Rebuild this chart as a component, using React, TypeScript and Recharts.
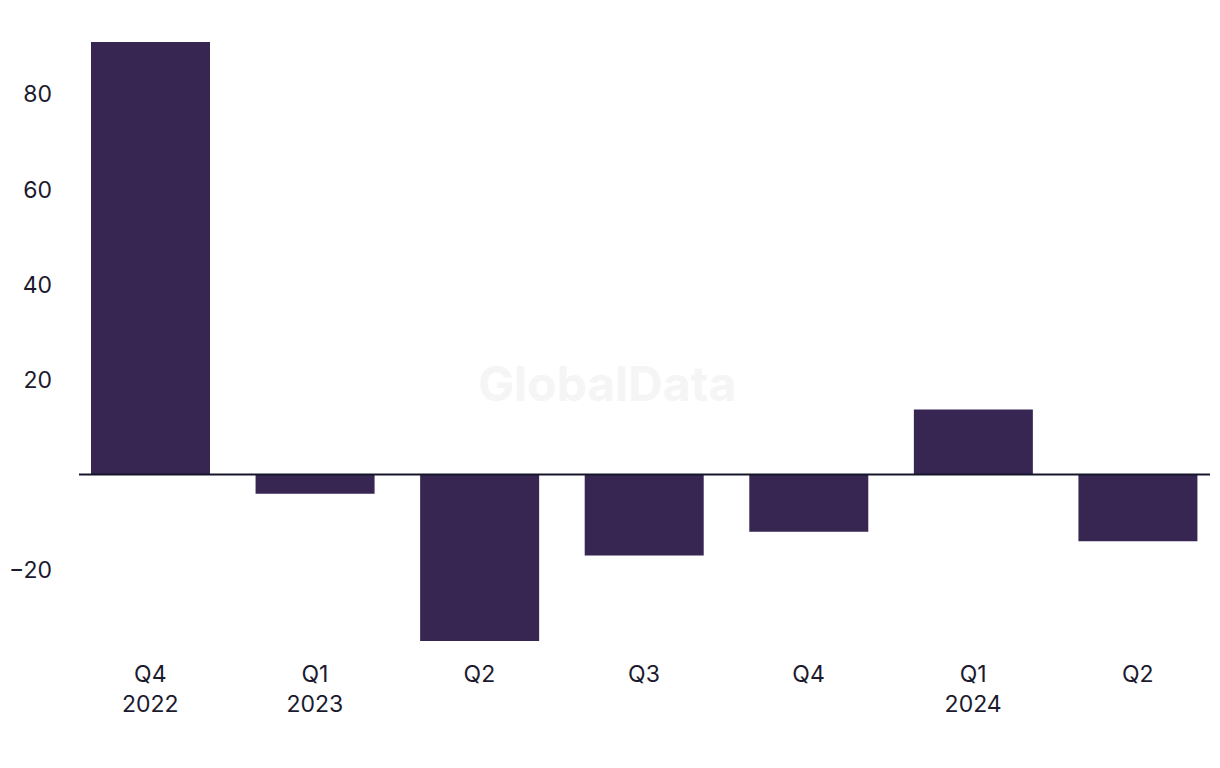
import { BarChart, Bar, XAxis, YAxis, ReferenceLine } from 'recharts';

const quarters = ['Q4', 'Q1', 'Q2', 'Q3', 'Q4', 'Q1', 'Q2'];
const years = ['2022', '2023', '', '', '', '2024', ''];
const values = [91, -4, -35, -17, -12, 13.7, -14];
const yTicks = [-20, 20, 40, 60, 80];

const data = quarters.map((q, i) => ({ key: `${q}-${i}`, quarter: q, year: years[i], value: values[i] }));

const textColor = '#1b1a2e';
const font = 'Inter, "Noto Sans", sans-serif';

const QuarterTick = (props: any) => {
  const { x, y, payload } = props;
  const row = data[payload.index] ?? data.find((d) => d.key === payload.value);
  return (
    <g transform={`translate(${x},${y})`}>
      <text textAnchor="middle" fill={textColor} fontSize={23} fontFamily={font}>
        <tspan x={0} dy={33}>{row?.quarter}</tspan>
        {row?.year ? <tspan x={0} dy={30}>{row.year}</tspan> : null}
      </text>
    </g>
  );
};

const ZeroLine = (props: any) => {
  const { x1, x2, y1 } = props;
  return <line x1={x1 + 11} x2={x2 - 10} y1={y1} y2={y1} stroke="#16162b" strokeWidth={2} />;
};

export default function App() {
  return (
    <div style={{ position: 'relative', width: 1212, height: 740 }}>
      <div
        style={{
          position: 'absolute',
          left: 470,
          top: 346,
          fontFamily: font,
          fontWeight: 700,
          fontSize: 48,
          color: '#f5f5f5',
          pointerEvents: 'none',
        }}
      >
        GlobalData
      </div>
      <BarChart
        width={1212}
        height={740}
        data={data}
        margin={{ top: 34, right: 0, bottom: 17, left: 0 }}
        barSize={119}
        style={{ position: 'relative' }}
      >
        <XAxis
          dataKey="key"
          axisLine={false}
          tickLine={false}
          height={90}
          interval={0}
          tick={<QuarterTick />}
        />
        <YAxis
          domain={[-35, 91]}
          ticks={yTicks}
          axisLine={false}
          tickLine={false}
          width={60}
          tickMargin={10}
          tickFormatter={(v: number) => String(v).replace('-', '\u2212')}
          tick={{ fill: textColor, fontSize: 23, fontFamily: font }}
        />
        <Bar dataKey="value" fill="#372552" isAnimationActive={false} />
        <ReferenceLine y={0} shape={<ZeroLine />} />
      </BarChart>
    </div>
  );
}
